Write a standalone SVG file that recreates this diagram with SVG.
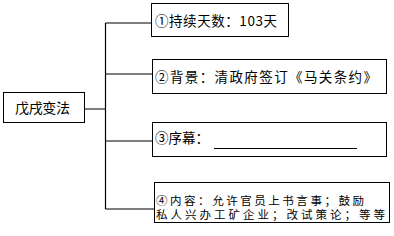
<svg xmlns="http://www.w3.org/2000/svg" width="394" height="236" viewBox="0 0 394 236">
<style>
.box{fill:#fff;stroke:#000;stroke-width:1}
.ln{fill:none;stroke:#000;stroke-width:1.2}
text{font-family:"Noto Sans CJK SC","Liberation Serif",serif;font-size:13.5px;fill:#000}
.sm{font-size:11.5px}
</style>
<rect width="394" height="236" fill="#fff"/>
<g id="connectors">
<path class="ln" d="M84.5 109H105.5M105.5 23V209M105.5 23H151M105.5 74H152M105.5 141H152M105.5 209H154"/>
</g>
<g id="root">
<rect class="box" x="3.5" y="92.5" width="81" height="30"/>
<text x="15" y="113" textLength="55" style="font-size:14px">戊戌变法</text>
</g>
<g id="n1">
<rect class="box" x="151.5" y="3.5" width="137" height="33"/>
<text x="155" y="26" textLength="122">①持续天数：103天</text>
</g>
<g id="n2">
<rect class="box" x="152.5" y="59.5" width="234" height="34"/>
<text x="155" y="82" textLength="222">②背景：清政府签订《马关条约》</text>
</g>
<g id="n3">
<rect class="box" x="152.5" y="122.5" width="234" height="34"/>
<text x="155" y="143">③序幕：</text>
<line x1="214" y1="148.5" x2="357" y2="148.5" stroke="#000" stroke-width="1"/>
</g>
<g id="n4">
<rect class="box" x="154.5" y="182.5" width="235" height="40"/>
<text class="sm" x="156" y="204.5" textLength="208">④内容：允许官员上书言事；鼓励</text>
<text class="sm" x="156" y="219" textLength="229">私人兴办工矿企业；改试策论；等等</text>
</g>
</svg>
